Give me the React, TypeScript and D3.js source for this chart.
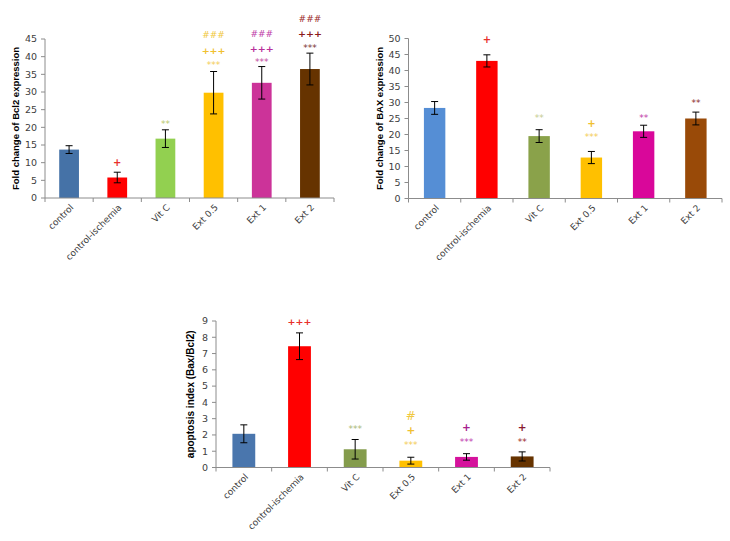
import React from "react";
import * as d3 from "d3";

const categories = ["control", "control-ischemia", "Vit C", "Ext 0.5", "Ext 1", "Ext 2"];

const bcl2Values = [13.7, 5.8, 16.8, 29.8, 32.6, 36.5];
const bcl2Errors = [1.1, 1.5, 2.5, 6.0, 4.6, 4.5];
const bcl2Ticks = [0, 5, 10, 15, 20, 25, 30, 35, 40, 45];
const bcl2Colors = ["#4572a7", "#ff0000", "#92d050", "#ffc000", "#cc3399", "#663300"];

const baxValues = [28.3, 43.0, 19.5, 12.8, 21.0, 25.0];
const baxErrors = [2.0, 1.9, 2.0, 1.9, 1.9, 2.0];
const baxTicks = [0, 5, 10, 15, 20, 25, 30, 35, 40, 45, 50];
const baxColors = ["#558ed5", "#ff0000", "#8aa24a", "#ffc000", "#d9079a", "#994a08"];

const apoValues = [2.07, 7.45, 1.12, 0.42, 0.65, 0.68];
const apoErrors = [0.55, 0.82, 0.6, 0.21, 0.2, 0.28];
const apoTicks = [0, 1, 2, 3, 4, 5, 6, 7, 8, 9];
const apoColors = ["#4a76ad", "#ff0000", "#849c4c", "#ffc000", "#d5129c", "#663300"];

// annotation: [category index, text, y position in data units, colour, font size]
type Ann = [number, string, number, string, number];

const bcl2Annotations: Ann[] = [
  [1, "+", 9.9, "#e8302a", 10],
  [2, "**", 21.8, "#b9c86e", 9],
  [3, "***", 38.5, "#f3cc55", 9],
  [3, "+++", 41.6, "#f0c030", 9.5],
  [3, "###", 46.1, "#f0c840", 9],
  [4, "***", 39.1, "#c24a9e", 9],
  [4, "+++", 42.2, "#b8309a", 9.5],
  [4, "###", 46.4, "#c040a8", 9],
  [5, "***", 43.3, "#7a3434", 9],
  [5, "+++", 46.4, "#8b1a1a", 9.5],
  [5, "###", 50.7, "#9b2a2a", 9],
];

const baxAnnotations: Ann[] = [
  [1, "+", 49.5, "#e8302a", 10],
  [2, "**", 25.9, "#c5cc90", 9],
  [3, "***", 19.9, "#f3cc55", 9],
  [3, "+", 23.4, "#f0c030", 10],
  [4, "**", 25.9, "#c040a8", 9],
  [5, "**", 30.5, "#8b2a2a", 9],
];

const apoAnnotations: Ann[] = [
  [1, "+++", 8.96, "#e8302a", 9.5],
  [2, "***", 2.54, "#aab878", 9],
  [3, "***", 1.56, "#f3cc55", 9],
  [3, "+", 2.27, "#f0c030", 10.5],
  [3, "#", 3.17, "#f0c840", 12],
  [4, "***", 1.74, "#c040b0", 9],
  [4, "+", 2.42, "#a8208e", 10.5],
  [5, "**", 1.74, "#9b2a2a", 9],
  [5, "+", 2.42, "#8a1a30", 10.5],
];

const FONT = "DejaVu Sans, Verdana, sans-serif";
const AXIS = "#8c8c8c";
const TXT = "#404040";

function charShift(t: string) {
  if (t.startsWith("*")) return 0.62;
  if (t.startsWith("#")) return 0.36;
  return 0.32;
}

type ChartProps = {
  left: number;
  right: number;
  top: number;
  bottom: number;
  yMax: number;
  ticks: number[];
  values: number[];
  errors: number[];
  colors: string[];
  title: string;
  titleX: number;
  titleSize: number;
  annotations: Ann[];
};

function Chart(p: ChartProps) {
  const x = d3.scaleBand<string>().domain(categories).range([p.left, p.right]).paddingInner(0).paddingOuter(0);
  const y = d3.scaleLinear().domain([0, p.yMax]).range([p.bottom, p.top]);
  const bw = x.bandwidth() * 0.41;
  const cx = (c: string) => (x(c) as number) + x.bandwidth() / 2;
  const boundaries = categories.map((c) => x(c) as number).concat([p.right]);
  return (
    <g>
      {categories.map((c, i) => (
        <rect key={"b" + i} x={cx(c) - bw / 2} y={y(p.values[i])} width={bw} height={p.bottom - y(p.values[i])} fill={p.colors[i]} />
      ))}
      {categories.map((c, i) => {
        const t = y(p.values[i] + p.errors[i]);
        const b = y(p.values[i] - p.errors[i]);
        const xc = cx(c);
        return (
          <g key={"e" + i} stroke="#000" strokeWidth={1}>
            <line x1={xc} x2={xc} y1={t} y2={b} />
            <line x1={xc - 3.5} x2={xc + 3.5} y1={t} y2={t} />
            <line x1={xc - 3.5} x2={xc + 3.5} y1={b} y2={b} />
          </g>
        );
      })}
      {/* y axis */}
      <line x1={p.left} x2={p.left} y1={p.top} y2={p.bottom} stroke={AXIS} />
      {p.ticks.map((t) => (
        <g key={"yt" + t}>
          <line x1={p.left - 4} x2={p.left} y1={y(t)} y2={y(t)} stroke={AXIS} />
          <text x={p.left - 8} y={y(t)} dy="0.35em" textAnchor="end" fontFamily={FONT} fontSize={9.5} fill={TXT}>
            {t}
          </text>
        </g>
      ))}
      {/* x axis */}
      <line x1={p.left} x2={p.right} y1={p.bottom} y2={p.bottom} stroke={AXIS} />
      {boundaries.map((b, i) => (
        <line key={"xt" + i} x1={b} x2={b} y1={p.bottom} y2={p.bottom + 4} stroke={AXIS} />
      ))}
      {categories.map((c, i) => (
        <text
          key={"xl" + i}
          transform={`translate(${cx(c) + 5},${p.bottom + 10}) rotate(-45)`}
          textAnchor="end"
          fontFamily={FONT}
          fontSize={9}
          fill={TXT}
        >
          {c}
        </text>
      ))}
      <text
        transform={`translate(${p.titleX},${(p.top + p.bottom) / 2}) rotate(-90)`}
        textAnchor="middle"
        dy="0.35em"
        fontFamily="Liberation Sans, Arial, sans-serif"
        fontWeight="bold"
        fontSize={p.titleSize}
        fill="#000"
      >
        {p.title}
      </text>
      {p.annotations.map((a, i) => (
        <text
          key={"a" + i}
          x={cx(categories[a[0]])}
          y={y(a[2])}
          dy={`${charShift(a[1])}em`}
          textAnchor="middle"
          fontFamily={FONT}
          fontWeight={a[1].startsWith("+") ? "bold" : "normal"}
          fontSize={a[4]}
          fill={a[3]}
        >
          {a[1]}
        </text>
      ))}
    </g>
  );
}

export default function App() {
  return (
    <svg width={730} height={541} style={{ position: "absolute", left: 0, top: 0, background: "#fff" }}>
      <rect x={0} y={0} width={730} height={541} fill="#fff" />
      <Chart
        left={45}
        right={334}
        top={39}
        bottom={198}
        yMax={45}
        ticks={bcl2Ticks}
        values={bcl2Values}
        errors={bcl2Errors}
        colors={bcl2Colors}
        title="Fold change of Bcl2 expression"
        titleX={16}
        titleSize={9.5}
        annotations={bcl2Annotations}
      />
      <Chart
        left={408.5}
        right={722}
        top={38.5}
        bottom={198.5}
        yMax={50}
        ticks={baxTicks}
        values={baxValues}
        errors={baxErrors}
        colors={baxColors}
        title="Fold change of BAX expression"
        titleX={380}
        titleSize={9.5}
        annotations={baxAnnotations}
      />
      <Chart
        left={216}
        right={550}
        top={321}
        bottom={467.5}
        yMax={9}
        ticks={apoTicks}
        values={apoValues}
        errors={apoErrors}
        colors={apoColors}
        title="apoptosis index (Bax/Bcl2)"
        titleX={190}
        titleSize={10}
        annotations={apoAnnotations}
      />
    </svg>
  );
}
